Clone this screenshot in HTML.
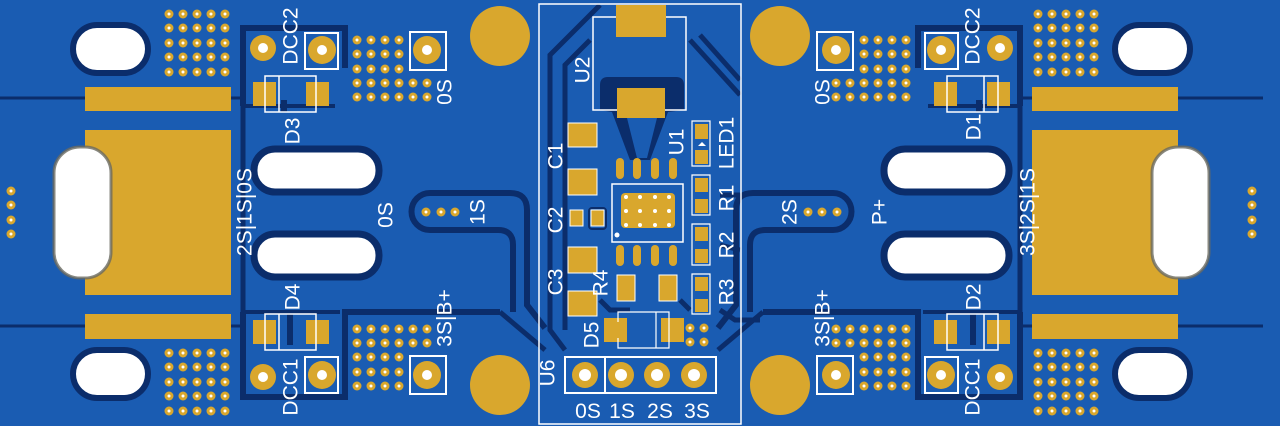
<!DOCTYPE html>
<html><head><meta charset="utf-8"><style>
html,body{margin:0;padding:0;background:#1a5cb2;}
svg{display:block}
text{font-family:"Liberation Sans","DejaVu Sans",sans-serif;fill:#fff;font-size:21px}
</style></head><body>
<svg width="1280" height="426" viewBox="0 0 1280 426" xmlns="http://www.w3.org/2000/svg">
<defs>
<g id="L">
  <line x1="0" y1="98" x2="243" y2="98" stroke="#0b2d6b" stroke-width="3"/>
  <line x1="0" y1="326" x2="243" y2="326" stroke="#0b2d6b" stroke-width="3"/>
  <rect x="85" y="87" width="146" height="24" fill="#d9a72d"/>
  <rect x="85" y="130" width="146" height="165" fill="#d9a72d"/>
  <rect x="85" y="314" width="146" height="25" fill="#d9a72d"/>
  <rect x="73" y="25" width="75" height="48" rx="24" fill="#fff" stroke="#0b2d6b" stroke-width="6"/>
  <rect x="73" y="350" width="75" height="48" rx="24" fill="#fff" stroke="#0b2d6b" stroke-width="6"/>
  <rect x="54" y="147" width="57" height="131" rx="26" fill="#fff" stroke="#6a6a60" stroke-width="3" stroke-opacity="0.8"/>
  <g fill="#d9a72d"><circle cx="11" cy="191" r="4.5"/><circle cx="11" cy="205" r="4.5"/><circle cx="11" cy="220" r="4.5"/><circle cx="11" cy="234" r="4.5"/></g>
  <g fill="#fff"><circle cx="11" cy="191" r="1.5"/><circle cx="11" cy="205" r="1.5"/><circle cx="11" cy="220" r="1.5"/><circle cx="11" cy="234" r="1.5"/></g>
  <path d="M243 106 V28 H345 V68" fill="none" stroke="#0b2d6b" stroke-width="6"/>
  <path d="M243 106 H335" fill="none" stroke="#0b2d6b" stroke-width="4"/>
  <line x1="243" y1="106" x2="243" y2="312" stroke="#0b2d6b" stroke-width="5"/>
  <path d="M243 312 V397 H345 V312 H500" fill="none" stroke="#0b2d6b" stroke-width="6"/>
  <line x1="243" y1="312" x2="340" y2="312" stroke="#0b2d6b" stroke-width="4"/>
  <line x1="284" y1="100" x2="284" y2="112" stroke="#0b2d6b" stroke-width="6"/>
  <line x1="290" y1="312" x2="290" y2="345" stroke="#0b2d6b" stroke-width="6"/>
  <path d="M513 312 V245 Q513 230 498 230 H430 A18.5 18.5 0 0 1 430 193 H510 Q527 193 527 210 V305 L545 328" fill="none" stroke="#0b2d6b" stroke-width="6"/>
  <line x1="500" y1="312" x2="545" y2="350" stroke="#0b2d6b" stroke-width="5"/>
  <rect x="254" y="149" width="125" height="43" rx="21" fill="#fff" stroke="#0b2d6b" stroke-width="7"/>
  <rect x="254" y="234" width="125" height="43" rx="21" fill="#fff" stroke="#0b2d6b" stroke-width="7"/>
  <circle cx="263" cy="48" r="13" fill="#d9a72d"/><circle cx="263" cy="48" r="5" fill="#fff"/>
  <rect x="305" y="33" width="33" height="36" fill="none" stroke="#fff" stroke-width="2"/>
  <circle cx="322" cy="50" r="14" fill="#d9a72d"/><circle cx="322" cy="50" r="5" fill="#fff"/>
  <circle cx="263" cy="377" r="13" fill="#d9a72d"/><circle cx="263" cy="377" r="5" fill="#fff"/>
  <rect x="305" y="357" width="33" height="36" fill="none" stroke="#fff" stroke-width="2"/>
  <circle cx="322" cy="375" r="14" fill="#d9a72d"/><circle cx="322" cy="375" r="5" fill="#fff"/>
  <rect x="253" y="82" width="23" height="24" fill="#d9a72d"/><rect x="306" y="82" width="23" height="24" fill="#d9a72d"/>
  <path d="M265 76 H316 V112 H265 Z" fill="none" stroke="#fff" stroke-width="1.5"/>
  <line x1="279" y1="76" x2="279" y2="112" stroke="#fff" stroke-width="1.5"/>
  <rect x="253" y="320" width="23" height="24" fill="#d9a72d"/><rect x="306" y="320" width="23" height="24" fill="#d9a72d"/>
  <path d="M265 314 H316 V350 H265 Z" fill="none" stroke="#fff" stroke-width="1.5"/>
  <line x1="279" y1="314" x2="279" y2="350" stroke="#fff" stroke-width="1.5"/>
  <rect x="410" y="32" width="36" height="38" fill="none" stroke="#fff" stroke-width="2"/>
  <circle cx="427" cy="50" r="14" fill="#d9a72d"/><circle cx="427" cy="50" r="5" fill="#fff"/>
  <rect x="410" y="356" width="36" height="38" fill="none" stroke="#fff" stroke-width="2"/>
  <circle cx="427" cy="375" r="14" fill="#d9a72d"/><circle cx="427" cy="375" r="5" fill="#fff"/>
  <g fill="#d9a72d"><circle cx="426" cy="212" r="4.5"/><circle cx="441" cy="212" r="4.5"/><circle cx="455" cy="212" r="4.5"/></g>
  <g fill="#fff"><circle cx="426" cy="212" r="1.5"/><circle cx="441" cy="212" r="1.5"/><circle cx="455" cy="212" r="1.5"/></g>
</g>
</defs>

<use href="#L"/>
<use href="#L" transform="translate(1263,0) scale(-1,1)"/>

<g fill="#d9a72d">
<circle cx="500" cy="36" r="30"/><circle cx="500" cy="385" r="30"/>
<circle cx="780" cy="36" r="30"/><circle cx="780" cy="385" r="30"/>
</g>

<g fill="none" stroke="#0b2d6b" stroke-width="5">
  <path d="M600 5 L550 55 V330 L565 350"/>
  <path d="M590 40 L565 65 V330"/>
  <path d="M700 35 L740 80"/>
  <path d="M690 40 L740 95"/>
  <path d="M600 300 L610 310 H630 M680 300 L690 310"/>
  <path d="M720 310 L735 320 H760"/>
  <path d="M720 195 H740 M720 245 L740 250"/>
</g>
<path d="M600 85 Q600 77 608 77 H676 Q684 77 684 85 V110 L668 112 L650 160 H630 L612 112 L600 110 Z" fill="#0b2d6b"/>
<path d="M627 118 H657 L647 158 H637 Z" fill="#1a5cb2"/>

<rect x="539" y="4" width="202" height="420" fill="none" stroke="#fff" stroke-width="1.5"/>
<path d="M616 17 H593 V110 H686 V17 H665" fill="none" stroke="#fff" stroke-width="1.5"/>
<rect x="616" y="5" width="50" height="32" fill="#d9a72d"/>
<rect x="617" y="88" width="48" height="30" fill="#d9a72d"/>
<g fill="#d9a72d" stroke="#fff" stroke-width="1">
<rect x="568" y="123" width="29" height="24"/><rect x="568" y="169" width="29" height="26"/>
<rect x="568" y="247" width="29" height="26"/><rect x="568" y="291" width="29" height="25"/>
<rect x="570" y="210" width="13" height="16"/><rect x="591" y="210" width="13" height="16"/>
</g>
<rect x="589" y="208" width="17" height="21" rx="3" fill="none" stroke="#0b2d6b" stroke-width="2"/>
<rect x="612" y="184" width="71" height="58" fill="#1a5cb2" stroke="#fff" stroke-width="1.5"/>
<rect x="621" y="193" width="54" height="35" rx="4" fill="#d9a72d"/>
<g fill="#fff">
<circle cx="626" cy="197" r="2"/><circle cx="640" cy="197" r="2"/><circle cx="655" cy="197" r="2"/><circle cx="669" cy="197" r="2"/>
<circle cx="626" cy="211" r="2"/><circle cx="640" cy="211" r="2"/><circle cx="655" cy="211" r="2"/><circle cx="669" cy="211" r="2"/>
<circle cx="626" cy="225" r="2"/><circle cx="640" cy="225" r="2"/><circle cx="655" cy="225" r="2"/><circle cx="669" cy="225" r="2"/>
<circle cx="617" cy="235" r="2.5"/>
</g>
<g fill="#d9a72d">
<rect x="616" y="158" width="8" height="21" rx="4"/><rect x="633" y="158" width="8" height="21" rx="4"/><rect x="651" y="158" width="8" height="21" rx="4"/><rect x="669" y="158" width="8" height="21" rx="4"/>
<rect x="616" y="245" width="8" height="21" rx="4"/><rect x="633" y="245" width="8" height="21" rx="4"/><rect x="651" y="245" width="8" height="21" rx="4"/><rect x="669" y="245" width="8" height="21" rx="4"/>
</g>
<g fill="#d9a72d">
<rect x="695" y="124" width="13" height="15"/><rect x="695" y="150" width="13" height="14"/>
<rect x="695" y="178" width="13" height="14"/><rect x="695" y="199" width="13" height="14"/>
<rect x="695" y="227" width="13" height="14"/><rect x="695" y="249" width="13" height="14"/>
<rect x="695" y="277" width="13" height="14"/><rect x="695" y="299" width="13" height="13"/>
</g>
<g fill="none" stroke="#fff" stroke-width="1.2">
<path d="M692 121 H710 V166 H692 Z"/><path d="M692 175 H710 V215 H692 Z"/>
<path d="M692 224 H710 V265 H692 Z"/><path d="M692 274 H710 V314 H692 Z"/>
</g>
<g fill="#d9a72d" stroke="#fff" stroke-width="1"><rect x="617" y="275" width="18" height="26"/><rect x="659" y="275" width="18" height="26"/></g>
<rect x="604" y="318" width="23" height="24" fill="#d9a72d"/><rect x="661" y="318" width="23" height="24" fill="#d9a72d"/>
<path d="M618 322 V312 H669 V348 H618 V338" fill="none" stroke="#fff" stroke-width="1.2"/>
<line x1="656" y1="312" x2="656" y2="348" stroke="#fff" stroke-width="1.2"/>
<g fill="#d9a72d"><circle cx="690" cy="328" r="4.5"/><circle cx="704" cy="328" r="4.5"/><circle cx="690" cy="342" r="4.5"/><circle cx="704" cy="342" r="4.5"/></g>
<g fill="#fff"><circle cx="690" cy="328" r="1.5"/><circle cx="704" cy="328" r="1.5"/><circle cx="690" cy="342" r="1.5"/><circle cx="704" cy="342" r="1.5"/></g>
<rect x="565" y="357" width="151" height="36" fill="none" stroke="#fff" stroke-width="2"/>
<line x1="605" y1="357" x2="605" y2="393" stroke="#fff" stroke-width="2"/>
<g fill="#d9a72d"><circle cx="585" cy="375" r="13"/><circle cx="621" cy="375" r="13"/><circle cx="657" cy="375" r="13"/><circle cx="694" cy="375" r="13"/></g>
<g fill="#fff"><circle cx="585" cy="375" r="6"/><circle cx="621" cy="375" r="6"/><circle cx="657" cy="375" r="6"/><circle cx="694" cy="375" r="6"/></g>

<g fill="#d9a72d">
<g id="g5">
<circle cx="169" cy="14" r="4.5"/><circle cx="183" cy="14" r="4.5"/><circle cx="197" cy="14" r="4.5"/><circle cx="211" cy="14" r="4.5"/><circle cx="225" cy="14" r="4.5"/>
<circle cx="169" cy="28" r="4.5"/><circle cx="183" cy="28" r="4.5"/><circle cx="197" cy="28" r="4.5"/><circle cx="211" cy="28" r="4.5"/><circle cx="225" cy="28" r="4.5"/>
<circle cx="169" cy="43" r="4.5"/><circle cx="183" cy="43" r="4.5"/><circle cx="197" cy="43" r="4.5"/><circle cx="211" cy="43" r="4.5"/><circle cx="225" cy="43" r="4.5"/>
<circle cx="169" cy="57" r="4.5"/><circle cx="183" cy="57" r="4.5"/><circle cx="197" cy="57" r="4.5"/><circle cx="211" cy="57" r="4.5"/><circle cx="225" cy="57" r="4.5"/>
<circle cx="169" cy="72" r="4.5"/><circle cx="183" cy="72" r="4.5"/><circle cx="197" cy="72" r="4.5"/><circle cx="211" cy="72" r="4.5"/><circle cx="225" cy="72" r="4.5"/>
</g>
<use href="#g5" transform="translate(0,339)"/>
<use href="#g5" transform="translate(1263,0) scale(-1,1)"/>
<use href="#g5" transform="translate(1263,339) scale(-1,1)"/>
<g id="g6">
<circle cx="357" cy="40" r="4.5"/><circle cx="371" cy="40" r="4.5"/><circle cx="385" cy="40" r="4.5"/><circle cx="399" cy="40" r="4.5"/>
<circle cx="357" cy="54" r="4.5"/><circle cx="371" cy="54" r="4.5"/><circle cx="385" cy="54" r="4.5"/><circle cx="399" cy="54" r="4.5"/>
<circle cx="357" cy="69" r="4.5"/><circle cx="371" cy="69" r="4.5"/><circle cx="385" cy="69" r="4.5"/><circle cx="399" cy="69" r="4.5"/>
<circle cx="357" cy="83" r="4.5"/><circle cx="371" cy="83" r="4.5"/><circle cx="385" cy="83" r="4.5"/><circle cx="399" cy="83" r="4.5"/><circle cx="413" cy="83" r="4.5"/><circle cx="427" cy="83" r="4.5"/>
<circle cx="357" cy="97" r="4.5"/><circle cx="371" cy="97" r="4.5"/><circle cx="385" cy="97" r="4.5"/><circle cx="399" cy="97" r="4.5"/><circle cx="413" cy="97" r="4.5"/><circle cx="427" cy="97" r="4.5"/>
</g>
<use href="#g6" transform="translate(0,426) scale(1,-1)"/>
<use href="#g6" transform="translate(1263,0) scale(-1,1)"/>
<use href="#g6" transform="translate(1263,426) scale(-1,-1)"/>
</g>
<g fill="#fff">
<g id="h5">
<circle cx="169" cy="14" r="1.5"/><circle cx="183" cy="14" r="1.5"/><circle cx="197" cy="14" r="1.5"/><circle cx="211" cy="14" r="1.5"/><circle cx="225" cy="14" r="1.5"/>
<circle cx="169" cy="28" r="1.5"/><circle cx="183" cy="28" r="1.5"/><circle cx="197" cy="28" r="1.5"/><circle cx="211" cy="28" r="1.5"/><circle cx="225" cy="28" r="1.5"/>
<circle cx="169" cy="43" r="1.5"/><circle cx="183" cy="43" r="1.5"/><circle cx="197" cy="43" r="1.5"/><circle cx="211" cy="43" r="1.5"/><circle cx="225" cy="43" r="1.5"/>
<circle cx="169" cy="57" r="1.5"/><circle cx="183" cy="57" r="1.5"/><circle cx="197" cy="57" r="1.5"/><circle cx="211" cy="57" r="1.5"/><circle cx="225" cy="57" r="1.5"/>
<circle cx="169" cy="72" r="1.5"/><circle cx="183" cy="72" r="1.5"/><circle cx="197" cy="72" r="1.5"/><circle cx="211" cy="72" r="1.5"/><circle cx="225" cy="72" r="1.5"/>
</g>
<use href="#h5" transform="translate(0,339)"/>
<use href="#h5" transform="translate(1263,0) scale(-1,1)"/>
<use href="#h5" transform="translate(1263,339) scale(-1,1)"/>
<g id="h6">
<circle cx="357" cy="40" r="1.5"/><circle cx="371" cy="40" r="1.5"/><circle cx="385" cy="40" r="1.5"/><circle cx="399" cy="40" r="1.5"/>
<circle cx="357" cy="54" r="1.5"/><circle cx="371" cy="54" r="1.5"/><circle cx="385" cy="54" r="1.5"/><circle cx="399" cy="54" r="1.5"/>
<circle cx="357" cy="69" r="1.5"/><circle cx="371" cy="69" r="1.5"/><circle cx="385" cy="69" r="1.5"/><circle cx="399" cy="69" r="1.5"/>
<circle cx="357" cy="83" r="1.5"/><circle cx="371" cy="83" r="1.5"/><circle cx="385" cy="83" r="1.5"/><circle cx="399" cy="83" r="1.5"/><circle cx="413" cy="83" r="1.5"/><circle cx="427" cy="83" r="1.5"/>
<circle cx="357" cy="97" r="1.5"/><circle cx="371" cy="97" r="1.5"/><circle cx="385" cy="97" r="1.5"/><circle cx="399" cy="97" r="1.5"/><circle cx="413" cy="97" r="1.5"/><circle cx="427" cy="97" r="1.5"/>
</g>
<use href="#h6" transform="translate(0,426) scale(1,-1)"/>
<use href="#h6" transform="translate(1263,0) scale(-1,1)"/>
<use href="#h6" transform="translate(1263,426) scale(-1,-1)"/>
</g>

<g text-anchor="middle" dominant-baseline="central">
<text transform="translate(291,36) rotate(-90)">DCC2</text>
<text transform="translate(293,131) rotate(-90)">D3</text>
<text transform="translate(245,212) rotate(-90)">2S|1S|0S</text>
<text transform="translate(386,215) rotate(-90)">0S</text>
<text transform="translate(478,212) rotate(-90)">1S</text>
<text transform="translate(445,92) rotate(-90)">0S</text>
<text transform="translate(293,297) rotate(-90)">D4</text>
<text transform="translate(445,318) rotate(-90)">3S|B+</text>
<text transform="translate(291,387) rotate(-90)">DCC1</text>

<text transform="translate(973,36) rotate(-90)">DCC2</text>
<text transform="translate(974,127) rotate(-90)">D1</text>
<text transform="translate(823,92) rotate(-90)">0S</text>
<text transform="translate(1028,212) rotate(-90)">3S|2S|1S</text>
<text transform="translate(880,212) rotate(-90)">P+</text>
<text transform="translate(790,212) rotate(-90)">2S</text>
<text transform="translate(974,297) rotate(-90)">D2</text>
<text transform="translate(823,318) rotate(-90)">3S|B+</text>
<text transform="translate(973,387) rotate(-90)">DCC1</text>

<text transform="translate(583,70) rotate(-90)">U2</text>
<text transform="translate(556,156) rotate(-90)">C1</text>
<text transform="translate(556,220) rotate(-90)">C2</text>
<text transform="translate(556,282) rotate(-90)">C3</text>
<text transform="translate(601,283) rotate(-90)">R4</text>
<text transform="translate(592,335) rotate(-90)">D5</text>
<text transform="translate(548,373) rotate(-90)">U6</text>
<text transform="translate(677,142) rotate(-90)">U1</text>
<text transform="translate(727,143) rotate(-90)">LED1</text>
<text transform="translate(727,198) rotate(-90)">R1</text>
<text transform="translate(727,245) rotate(-90)">R2</text>
<text transform="translate(727,292) rotate(-90)">R3</text>
</g>
<g text-anchor="middle">
<text x="588" y="418">0S</text>
<text x="622" y="418">1S</text>
<text x="660" y="418">2S</text>
<text x="697" y="418">3S</text>
</g>
<path d="M698 146 L702 142 L706 146 Z" fill="#fff"/>
</svg>
</body></html>
